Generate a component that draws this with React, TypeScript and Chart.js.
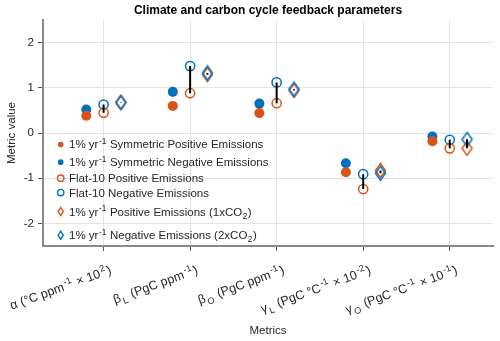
import React, { useEffect, useRef } from 'react';
import { Chart, registerables } from 'chart.js';

Chart.register(...registerables);

// ---------- data ----------
const metricLabels = [
  'α (°C ppm^{-1} × 10^{2})',
  'β_{L} (PgC ppm^{-1})',
  'β_{O} (PgC ppm^{-1})',
  'γ_{L} (PgC °C^{-1} × 10^{-2})',
  'γ_{O} (PgC °C^{-1} × 10^{-1})',
];
const symPositive = [0.38, 0.6, 0.44, -0.87, -0.18];
const symNegative = [0.52, 0.91, 0.65, -0.67, -0.08];
const flatPositive = [0.45, 0.88, 0.66, -1.24, -0.34];
const flatNegative = [0.63, 1.48, 1.12, -0.91, -0.15];
const pos1xCO2 = [0.67, 1.29, 0.94, -0.83, -0.34];
const neg2xCO2 = [0.68, 1.33, 0.97, -0.89, -0.14];
const seriesNames = [
  '1% yr^{-1} Symmetric Positive Emissions',
  '1% yr^{-1} Symmetric Negative Emissions',
  'Flat-10 Positive Emissions',
  'Flat-10 Negative Emissions',
  '1% yr^{-1} Positive Emissions (1xCO_{2})',
  '1% yr^{-1} Negative Emissions (2xCO_{2})',
];
const yTicks = [-2, -1, 0, 1, 2];

// ---------- style ----------
const ORANGE = '#D95319';
const BLUE = '#0072BD';
const FONT = "'Liberation Sans', Arial, Helvetica, sans-serif";
const TXT = '#262626';
const OFF_SYM = -0.2;
const OFF_FLAT = 0;
const OFF_DIA = 0.2;

type Seg = { t: string; k: 'n' | 'sup' | 'sub' };
function parseRich(s: string): Seg[] {
  const out: Seg[] = [];
  const re = /([\^_])\{([^}]*)\}/g;
  let last = 0;
  let m: RegExpExecArray | null;
  while ((m = re.exec(s))) {
    if (m.index > last) out.push({ t: s.slice(last, m.index), k: 'n' });
    out.push({ t: m[2], k: m[1] === '^' ? 'sup' : 'sub' });
    last = re.lastIndex;
  }
  if (last < s.length) out.push({ t: s.slice(last), k: 'n' });
  return out;
}
function segFont(k: string, size: number) {
  return `${k === 'n' ? size : size * 0.72}px ${FONT}`;
}
function richWidth(ctx: CanvasRenderingContext2D, segs: Seg[], size: number, gap: number) {
  let w = 0;
  for (const s of segs) {
    ctx.font = segFont(s.k, size);
    w += ctx.measureText(s.t).width + (s.k === 'n' ? 0 : gap * 2);
  }
  return w;
}
function drawRich(ctx: CanvasRenderingContext2D, segs: Seg[], x: number, y: number, size: number, gap: number) {
  ctx.textAlign = 'left';
  ctx.textBaseline = 'alphabetic';
  let cx = x;
  for (const s of segs) {
    ctx.font = segFont(s.k, size);
    let dy = 0;
    if (s.k === 'sup') dy = -size * 0.4;
    if (s.k === 'sub') dy = size * 0.28;
    if (s.k !== 'n') cx += gap;
    ctx.fillText(s.t, cx, y + dy);
    cx += ctx.measureText(s.t).width + (s.k !== 'n' ? gap : 0);
  }
  return cx;
}

function diamondCanvas(color: string, hw: number, hh: number, lw: number) {
  const c = document.createElement('canvas');
  const w = Math.ceil(hw * 2 + lw + 2);
  const h = Math.ceil(hh * 2 + lw + 2);
  c.width = w % 2 === 0 ? w + 1 : w;
  c.height = h % 2 === 0 ? h + 1 : h;
  const g = c.getContext('2d')!;
  const cx = c.width / 2, cy = c.height / 2;
  g.strokeStyle = color;
  g.lineWidth = lw;
  g.beginPath();
  g.moveTo(cx, cy - hh);
  g.lineTo(cx + hw, cy);
  g.lineTo(cx, cy + hh);
  g.lineTo(cx - hw, cy);
  g.closePath();
  g.stroke();
  return c;
}

function drawDiamond(ctx: CanvasRenderingContext2D, x: number, y: number, hw: number, hh: number, color: string, lw: number) {
  ctx.strokeStyle = color;
  ctx.lineWidth = lw;
  ctx.beginPath();
  ctx.moveTo(x, y - hh);
  ctx.lineTo(x + hw, y);
  ctx.lineTo(x, y + hh);
  ctx.lineTo(x - hw, y);
  ctx.closePath();
  ctx.stroke();
}

const decorPlugin = {
  id: 'decor',
  afterDraw(chart: any) {
    const ctx: CanvasRenderingContext2D = chart.ctx;
    const area = chart.chartArea;
    const xs = chart.scales.x;
    ctx.save();
    // title
    ctx.fillStyle = '#000';
    ctx.font = `bold 12px ${FONT}`;
    ctx.textAlign = 'center';
    ctx.textBaseline = 'middle';
    ctx.fillText('Climate and carbon cycle feedback parameters', (area.left + area.right) / 2, 11);

    // x tick labels (rotated, rich)
    const size = 12.5;
    ctx.fillStyle = TXT;
    metricLabels.forEach((lab, i) => {
      const segs = parseRich(lab);
      const px = xs.getPixelForValue(i + 1);
      ctx.save();
      ctx.translate(px + 7, area.bottom + 23);
      ctx.rotate((-20 * Math.PI) / 180);
      const w = richWidth(ctx, segs, size, 1.2);
      drawRich(ctx, segs, -w, 4.5, size, 1.2);
      ctx.restore();
    });

    // legend
    const lsize = 11.5;
    const rows = seriesNames.map((n) => {
      let h = 14.4;
      if (n.includes('^{')) h += 3.3;
      if (n.includes('_{')) h += 5.9;
      return h;
    });
    const total = rows.reduce((a, b) => a + b, 0);
    let y = area.bottom - total + 1;
    const mx = area.left + 17.7;
    const tx = area.left + 26;
    seriesNames.forEach((n, i) => {
      const cy = y + rows[i] / 2;
      y += rows[i];
      const color = i % 2 === 0 ? ORANGE : BLUE;
      if (i < 2) {
        ctx.fillStyle = color;
        ctx.beginPath();
        ctx.arc(mx, cy, 2.8, 0, Math.PI * 2);
        ctx.fill();
      } else if (i < 4) {
        ctx.strokeStyle = color;
        ctx.lineWidth = 1.4;
        ctx.beginPath();
        ctx.arc(mx, cy, 3.2, 0, Math.PI * 2);
        ctx.stroke();
      } else {
        drawDiamond(ctx, mx, cy, 2.6, 4, color, 1.4);
      }
      ctx.fillStyle = TXT;
      drawRich(ctx, parseRich(n), tx, cy + 4, lsize, 0.5);
    });
    ctx.restore();
  },
};

export default function App() {
  const ref = useRef<HTMLCanvasElement | null>(null);
  useEffect(() => {
    document.body.style.margin = '0';
    const pts = (vals: number[], off: number) => vals.map((v, i) => ({ x: i + 1 + off, y: v }));
    const pairLines: any[] = [];
    metricLabels.forEach((_, i) => {
      pairLines.push({ x: i + 1 + OFF_FLAT, y: flatPositive[i] });
      pairLines.push({ x: i + 1 + OFF_FLAT, y: flatNegative[i] });
      pairLines.push({ x: i + 1 + OFF_FLAT, y: null });
      pairLines.push({ x: i + 1 + OFF_DIA, y: pos1xCO2[i] });
      pairLines.push({ x: i + 1 + OFF_DIA, y: neg2xCO2[i] });
      pairLines.push({ x: i + 1 + OFF_DIA, y: null });
    });
    const diaO = diamondCanvas(ORANGE, 5, 7, 1.5);
    const diaB = diamondCanvas(BLUE, 5, 7, 1.5);

    const chart = new Chart(ref.current!, {
      type: 'scatter',
      data: {
        datasets: [
          { label: 'pairs', type: 'line', data: pairLines, borderColor: '#000', borderWidth: 2, pointRadius: 0, spanGaps: false, order: 0 } as any,
          { label: seriesNames[5], data: pts(neg2xCO2, OFF_DIA), pointStyle: diaB as any, pointRadius: 6, order: 1 },
          { label: seriesNames[4], data: pts(pos1xCO2, OFF_DIA), pointStyle: diaO as any, pointRadius: 6, order: 2 },
          { label: seriesNames[2], data: pts(flatPositive, OFF_FLAT), pointStyle: 'circle', pointRadius: 4.6, pointBorderWidth: 1.5, pointBorderColor: ORANGE, pointBackgroundColor: 'rgba(0,0,0,0)', order: 3 },
          { label: seriesNames[3], data: pts(flatNegative, OFF_FLAT), pointStyle: 'circle', pointRadius: 4.6, pointBorderWidth: 1.5, pointBorderColor: BLUE, pointBackgroundColor: 'rgba(0,0,0,0)', order: 4 },
          { label: seriesNames[0], data: pts(symPositive, OFF_SYM), pointStyle: 'circle', pointRadius: 5, pointBorderWidth: 0, pointBackgroundColor: ORANGE, order: 5 },
          { label: seriesNames[1], data: pts(symNegative, OFF_SYM), pointStyle: 'circle', pointRadius: 5, pointBorderWidth: 0, pointBackgroundColor: BLUE, order: 6 },
        ],
      },
      options: {
        animation: false,
        responsive: false,
        layout: { padding: { top: 20, right: 7, left: 0, bottom: 0 } },
        font: { family: FONT },
        plugins: { legend: { display: false }, tooltip: { enabled: false }, title: { display: false } },
        scales: {
          x: {
            type: 'linear',
            min: 0.3,
            max: 5.5,
            afterBuildTicks: (s: any) => { s.ticks = metricLabels.map((_, i) => ({ value: i + 1 })); },
            afterFit: (s: any) => { s.height = 95; },
            ticks: { display: false },
            grid: { color: '#e4e4e4', tickColor: '#555', tickLength: 5 },
            border: { color: '#8a8a8a', width: 2 },
            title: { display: true, text: 'Metrics', color: TXT, font: { size: 11.5, family: FONT }, padding: { top: 0, bottom: 3 } },
          },
          y: {
            min: -2.5,
            max: 2.5,
            afterBuildTicks: (s: any) => { s.ticks = yTicks.map((v) => ({ value: v })); },
            afterFit: (s: any) => { s.width = 43; },
            ticks: { color: TXT, font: { size: 11.5, family: FONT }, padding: 4 },
            grid: { color: '#e4e4e4', tickColor: '#555', tickLength: 5 },
            border: { color: '#8a8a8a', width: 2 },
            title: { display: true, text: 'Metric value', color: TXT, font: { size: 11.5, family: FONT }, padding: { top: 5, bottom: 0 } },
          },
        },
      } as any,
      plugins: [decorPlugin],
    });
    return () => chart.destroy();
  }, []);
  return (
    <div style={{ position: 'fixed', left: 0, top: 0, width: 500, height: 341 }}>
      <canvas ref={ref} width={500} height={341} style={{ display: 'block' }} />
    </div>
  );
}
